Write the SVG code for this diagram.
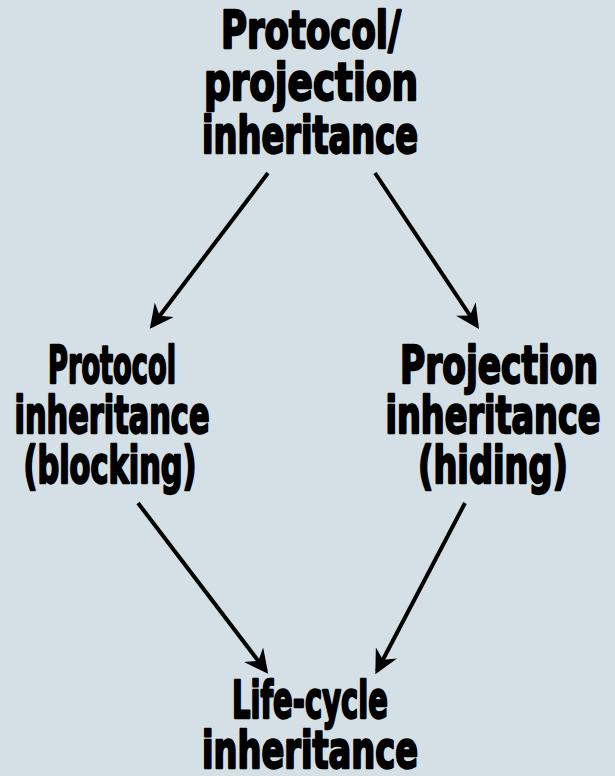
<svg xmlns="http://www.w3.org/2000/svg" width="615" height="776" viewBox="0 0 615 776">
  <style>
    .lbl { font-family: "DejaVu Sans Condensed", "Liberation Sans Narrow", "Liberation Sans", sans-serif; font-stretch: condensed; font-weight: bold; font-size: 41px; fill: #000; stroke: #000; stroke-width: 1.8px; stroke-linejoin: round; text-anchor: middle; }
    .edge { stroke: #000; stroke-width: 4; fill: none; marker-end: url(#head); }
  </style>
  <defs>
    <marker id="head" viewBox="0 0 10 10" refX="8.5" refY="5" markerWidth="6" markerHeight="6" markerUnits="strokeWidth" orient="auto">
      <path d="M0,0 L10,5 L0,10 L3.2,5 Z" fill="#000"/>
    </marker>
  </defs>
  <rect width="615" height="776" fill="#d4e0e5"/>

  <!-- labels are drawn 1.25x taller than wide for a compressed, heavy look -->
  <g id="protocol-projection" transform="scale(1,1.25)">
    <text class="lbl" x="311" y="38.4" textLength="180" lengthAdjust="spacingAndGlyphs">Protocol/</text>
    <text class="lbl" x="311" y="80" textLength="214" lengthAdjust="spacingAndGlyphs">projection</text>
    <text class="lbl" x="310" y="122.4" textLength="216" lengthAdjust="spacingAndGlyphs">inheritance</text>
  </g>

  <g id="protocol" transform="scale(1,1.25)">
    <text class="lbl" x="112" y="306.4" textLength="128" lengthAdjust="spacingAndGlyphs">Protocol</text>
    <text class="lbl" x="112" y="346.4" textLength="195" lengthAdjust="spacingAndGlyphs">inheritance</text>
    <text class="lbl" x="110" y="386.4" textLength="173" lengthAdjust="spacingAndGlyphs">(blocking)</text>
  </g>

  <g id="projection" transform="scale(1,1.25)">
    <text class="lbl" x="499" y="306.4" textLength="198" lengthAdjust="spacingAndGlyphs">Projection</text>
    <text class="lbl" x="493" y="346.4" textLength="215" lengthAdjust="spacingAndGlyphs">inheritance</text>
    <text class="lbl" x="493" y="386.4" textLength="150" lengthAdjust="spacingAndGlyphs">(hiding)</text>
  </g>

  <g id="life-cycle" transform="scale(1,1.25)">
    <text class="lbl" x="310" y="574.4" textLength="156" lengthAdjust="spacingAndGlyphs">Life-cycle</text>
    <text class="lbl" x="310" y="614.4" textLength="216" lengthAdjust="spacingAndGlyphs">inheritance</text>
  </g>

  <g id="connectors">
    <line class="edge" x1="268" y1="173" x2="152" y2="326"/>
    <line class="edge" x1="375" y1="173" x2="477" y2="326"/>
    <line class="edge" x1="138" y1="503" x2="266" y2="671"/>
    <line class="edge" x1="465" y1="503" x2="377" y2="671"/>
  </g>
</svg>
